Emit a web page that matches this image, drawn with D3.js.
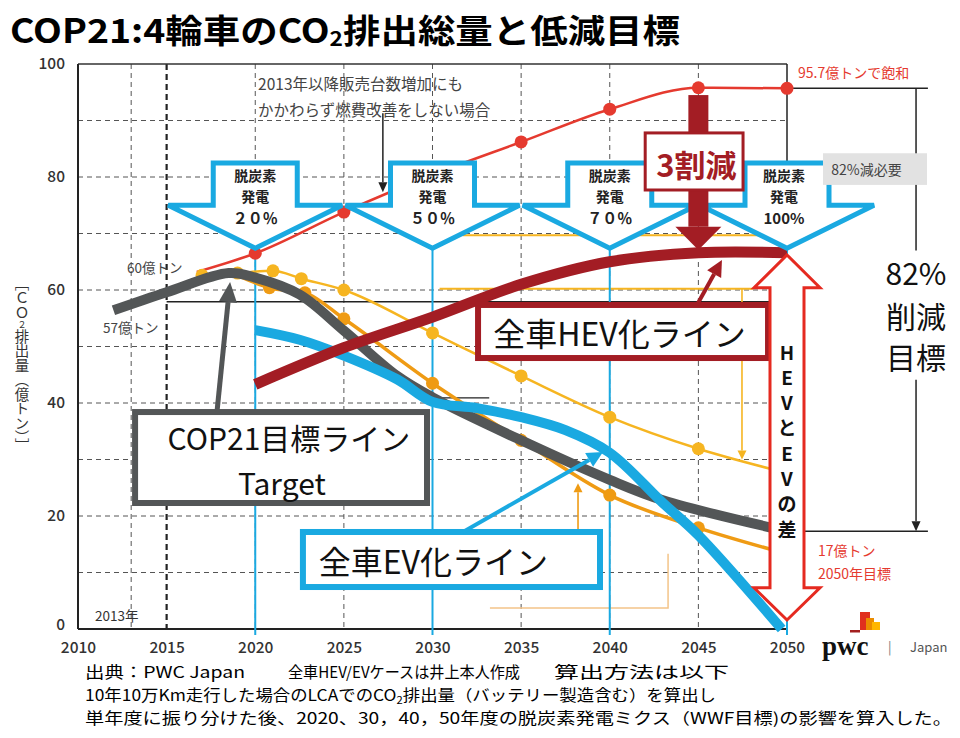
<!DOCTYPE html>
<html><head><meta charset="utf-8">
<script src="https://cdn.jsdelivr.net/npm/d3@7/dist/d3.min.js"></script>
<style>body{margin:0;background:#fff}svg{display:block}</style>
</head><body>
<svg id="c" width="960" height="738"></svg>
<script>
// ---------------- data ----------------
const noImproveYears  = [2016.7, 2020, 2025, 2030, 2035, 2040, 2045, 2050];
const noImproveValues = [63.2, 66.5, 73.8, 80.4, 86.2, 92.0, 95.8, 95.7];
const noImproveDotYears = [2020, 2025, 2030, 2035, 2040, 2045, 2050];

const mixAYears  = [2017, 2019, 2021, 2022.6, 2025, 2030, 2035, 2040, 2045, 2050];
const mixAValues = [62.6, 63.0, 63.4, 62.0, 60.0, 52.4, 44.8, 37.5, 31.9, 27.6];
const mixADotYears = [2017, 2019, 2021, 2022.6, 2025, 2030, 2035, 2040, 2045];

const mixBYears  = [2019, 2020.8, 2022.8, 2025, 2030, 2035, 2040, 2045, 2050];
const mixBValues = [62.6, 60.4, 59.5, 54.9, 43.5, 33.4, 23.7, 17.9, 13.3];
const mixBDotYears = [2020.8, 2022.8, 2025, 2030, 2035, 2040, 2045];

const cop21Years  = [2012, 2015, 2018.5, 2020, 2022.5, 2025, 2028, 2030, 2035, 2040, 2043, 2050];
const cop21Values = [56.4, 59.6, 63.0, 62.2, 59.2, 52.8, 44.8, 41.0, 33.4, 26.4, 22.8, 17.3];

const evYears  = [2020, 2022.5, 2025, 2028, 2030, 2032.5, 2035, 2037.5, 2040, 2043, 2045, 2049.7];
const evValues = [52.9, 51.2, 48.4, 44.2, 40.2, 39.1, 37.5, 35.2, 31.2, 22.3, 16.6, 0];

const hevYears  = [2020, 2025, 2030, 2035, 2040, 2045, 2050];
const hevValues = [43.3, 49.8, 55.2, 61.0, 65.0, 66.6, 66.6];

const xTicks = [2010, 2015, 2020, 2025, 2030, 2035, 2040, 2045, 2050];
const yTicks = [0, 20, 40, 60, 80, 100];
const gridValues = [10, 20, 30, 40, 50, 60, 70, 80, 90];
const gridYears = [2013, 2020, 2025, 2030, 2035, 2040, 2045];
const powerYears = [2020, 2030, 2040, 2050];
const powerLabels = ["２０％", "５０％", "７０％", "100%"];
const saturation = 95.7;
const target2050 = 17.3;
const level57 = 57.9;
const gapChars = ["H","E","V","と","E","V","の","差"];

// ---------------- setup ----------------
const svg = d3.select("#c");
const JP = "'Noto Sans CJK JP','Noto Sans',sans-serif";
const x = d3.scaleLinear().domain([2010, 2050]).range([78, 787]);
const y = d3.scaleLinear().domain([0, 100]).range([629, 64]);
const zip = (a, b) => a.map((v, i) => [v, b[i]]);
const C = {red:"#e53a2f", gold:"#f6b521", orange:"#ef9b14", gray:"#535657",
           blue:"#1aa9e1", hev:"#a31d24", gapRed:"#e52a20"};

function arrow(p, x1, y1, x2, y2, color, w, hl, hw) {
  const a = Math.atan2(y2 - y1, x2 - x1);
  const bx = x2 - hl * Math.cos(a), by = y2 - hl * Math.sin(a);
  p.append("line").attr("x1", x1).attr("y1", y1).attr("x2", bx).attr("y2", by)
    .attr("stroke", color).attr("stroke-width", w);
  const px = -Math.sin(a), py = Math.cos(a);
  p.append("polygon").attr("points",
    [[x2, y2], [bx + px * hw, by + py * hw], [bx - px * hw, by - py * hw]].map(d => d.join(",")).join(" "))
    .attr("fill", color);
}
function txt(p, s, px, py, o = {}) {
  return p.append("text").attr("x", px).attr("y", py).text(s)
    .attr("font-family", o.ff || JP).attr("font-size", o.fs || 14)
    .attr("font-weight", o.fw || 400).attr("fill", o.fill || "#222")
    .attr("text-anchor", o.anchor || "start").attr("dominant-baseline", "central");
}

// ---------------- grid ----------------
const grid = svg.append("g");
grid.selectAll("line.h").data(gridValues).join("line").attr("class", "h")
  .attr("x1", x(2010)).attr("x2", x(2050)).attr("y1", d => y(d)).attr("y2", d => y(d))
  .attr("stroke", "#555").attr("stroke-width", 1).attr("stroke-dasharray", "5,4");
grid.selectAll("line.v").data(gridYears).join("line").attr("class", "v")
  .attr("x1", d => x(d)).attr("x2", d => x(d)).attr("y1", y(100)).attr("y2", y(0))
  .attr("stroke", "#555").attr("stroke-width", 1).attr("stroke-dasharray", "5,4");
grid.append("line").attr("x1", x(2015)).attr("x2", x(2015)).attr("y1", y(100)).attr("y2", y(0))
  .attr("stroke", "#222").attr("stroke-width", 2.2).attr("stroke-dasharray", "6,4");

// frame
grid.append("line").attr("x1", x(2010)).attr("x2", x(2050)).attr("y1", y(100)).attr("y2", y(100)).attr("stroke", "#333").attr("stroke-width", 1.5);
grid.append("line").attr("x1", x(2010)).attr("x2", x(2010)).attr("y1", y(100)).attr("y2", y(0)).attr("stroke", "#222").attr("stroke-width", 2);
grid.append("line").attr("x1", x(2010)).attr("x2", x(2050)).attr("y1", y(0)).attr("y2", y(0)).attr("stroke", "#222").attr("stroke-width", 2);
grid.append("line").attr("x1", x(2050)).attr("x2", x(2050)).attr("y1", y(100)).attr("y2", y(0)).attr("stroke", "#222").attr("stroke-width", 1.5);
grid.append("line").attr("x1", x(2015)).attr("x2", x(2050)).attr("y1", y(level57)).attr("y2", y(level57)).attr("stroke", "#222").attr("stroke-width", 1.5);
grid.append("line").attr("x1", x(2030.4)).attr("x2", x(2033.2)).attr("y1", y(40.9)).attr("y2", y(40.9)).attr("stroke", "#222").attr("stroke-width", 1.3);
grid.append("line").attr("x1", x(2050)).attr("x2", x(2057.95)).attr("y1", y(saturation)).attr("y2", y(saturation)).attr("stroke", "#222").attr("stroke-width", 1.5);
grid.append("line").attr("x1", x(2057.28)).attr("x2", x(2057.28)).attr("y1", y(saturation)).attr("y2", y(67)).attr("stroke", "#222").attr("stroke-width", 1.5);
grid.append("line").attr("x1", x(2050.9)).attr("x2", x(2057.95)).attr("y1", y(target2050)).attr("y2", y(target2050)).attr("stroke", "#222").attr("stroke-width", 1.5);
arrow(grid, x(2057.28), y(44.1), x(2057.28), y(target2050), "#222", 1.5, 10, 4.5);

// axes
const xa = svg.append("g").attr("transform", `translate(0,${y(0)})`)
  .call(d3.axisBottom(x).tickValues(xTicks).tickFormat(d3.format("d")).tickSize(0).tickPadding(13));
xa.select(".domain").remove();
xa.selectAll("text").attr("font-family", JP).attr("font-size", 15.5).attr("font-weight", 500).attr("fill", "#333");
const ya = svg.append("g").attr("transform", `translate(${x(2010)},0)`)
  .call(d3.axisLeft(y).tickValues(yTicks).tickSize(0).tickPadding(13));
ya.select(".domain").remove();
ya.selectAll("text").attr("font-family", JP).attr("font-size", 15.5).attr("font-weight", 500).attr("fill", "#333")
  .attr("dy", d => d === 0 ? "0.05em" : "0.32em");

// orange annotation remnants
const ann = svg.append("g");
ann.append("line").attr("x1", x(2031.7)).attr("x2", x(2049)).attr("y1", y(69.7)).attr("y2", y(69.7)).attr("stroke", C.gold).attr("stroke-width", 2);
ann.append("line").attr("x1", x(2030.4)).attr("x2", x(2048.1)).attr("y1", y(60.2)).attr("y2", y(60.2)).attr("stroke", C.gold).attr("stroke-width", 2);
arrow(ann, x(2047.46), y(60.2), x(2047.46), y(30.0), C.gold, 1.6, 9, 4.5);
arrow(ann, x(2038.21), y(17.5), x(2038.21), y(25.8), C.orange, 1.6, 9, 4.5);
ann.append("polyline").attr("points", [[x(2033.24), y(3.7)], [x(2043.29), y(3.7)], [x(2043.29), y(13.3)]].map(d => d.join(",")).join(" "))
  .attr("fill", "none").attr("stroke", "#f3c489").attr("stroke-width", 1.5);

// blue vertical guides
svg.append("g").selectAll("line").data(powerYears).join("line")
  .attr("x1", d => x(d)).attr("x2", d => x(d)).attr("y1", y(67.4)).attr("y2", y(0) + 6)
  .attr("stroke", C.blue).attr("stroke-width", 2);

// ---------------- series ----------------
const lineGen = c => d3.line().x(d => x(d[0])).y(d => y(d[1])).curve(c);
const series = svg.append("g");
series.append("path").datum(zip(noImproveYears, noImproveValues)).attr("d", lineGen(d3.curveMonotoneX))
  .attr("fill", "none").attr("stroke", C.red).attr("stroke-width", 2.5);
series.selectAll("circle.r").data(noImproveDotYears).join("circle").attr("class", "r")
  .attr("cx", d => x(d)).attr("cy", d => y(noImproveValues[noImproveYears.indexOf(d)])).attr("r", 6.5).attr("fill", C.red);
series.append("path").datum(zip(mixAYears, mixAValues)).attr("d", lineGen(d3.curveMonotoneX))
  .attr("fill", "none").attr("stroke", C.gold).attr("stroke-width", 2.5);
series.selectAll("circle.a").data(mixADotYears).join("circle").attr("class", "a")
  .attr("cx", d => x(d)).attr("cy", d => y(mixAValues[mixAYears.indexOf(d)])).attr("r", 6.5).attr("fill", C.gold);
series.append("path").datum(zip(mixBYears, mixBValues)).attr("d", lineGen(d3.curveMonotoneX))
  .attr("fill", "none").attr("stroke", C.orange).attr("stroke-width", 3.5);
series.selectAll("circle.b").data(mixBDotYears).join("circle").attr("class", "b")
  .attr("cx", d => x(d)).attr("cy", d => y(mixBValues[mixBYears.indexOf(d)])).attr("r", 6.5).attr("fill", C.orange);
series.append("path").datum(zip(cop21Years, cop21Values)).attr("d", lineGen(d3.curveCatmullRom.alpha(0.5)))
  .attr("fill", "none").attr("stroke", C.gray).attr("stroke-width", 10);
series.append("path").datum(zip(evYears, evValues)).attr("d", lineGen(d3.curveCatmullRom.alpha(0.5)))
  .attr("fill", "none").attr("stroke", C.blue).attr("stroke-width", 10);
series.append("path").datum(zip(hevYears, hevValues)).attr("d", lineGen(d3.curveCatmullRom.alpha(0.5)))
  .attr("fill", "none").attr("stroke", C.hev).attr("stroke-width", 11);

// ---------------- decarbonised power arrows ----------------
const pa = svg.append("g");
powerYears.forEach((yr) => {
  const cx = x(yr), bw = 42, ww = 87;
  const yt = y(82.5), ys = y(75.0), yp = y(67.4);
  pa.append("polygon").attr("points",
    [[cx - bw, yt], [cx + bw, yt], [cx + bw, ys], [cx + ww, ys], [cx, yp], [cx - ww, ys], [cx - bw, ys]].map(d => d.join(",")).join(" "))
    .attr("fill", "#fff").attr("stroke", C.blue).attr("stroke-width", 5).attr("stroke-linejoin", "miter");
});
powerYears.forEach((yr, i) => {
  const cx = x(yr) - (i === 3 ? 3 : 0);
  txt(pa, "脱炭素", cx, y(80.4), {fs: 14, fw: 700, anchor: "middle"});
  txt(pa, "発電", cx, y(76.7), {fs: 14, fw: 700, anchor: "middle"});
  txt(pa, powerLabels[i], cx, y(72.8), {fs: 15, fw: 700, anchor: "middle"});
});

// 3割減 arrow + box
const cut = svg.append("g");
const cx45 = x(2045);
cut.append("rect").attr("x", cx45 - 10).attr("y", y(94.5)).attr("width", 20).attr("height", y(71.2) - y(94.5)).attr("fill", C.hev);
cut.append("polygon").attr("points", [[cx45 - 23, y(71.2)], [cx45 + 23, y(71.2)], [cx45, y(67.1)]].map(d => d.join(",")).join(" ")).attr("fill", C.hev);
cut.append("rect").attr("x", x(2042.0)).attr("y", y(87.8)).attr("width", x(2047.52) - x(2042.0)).attr("height", y(77.7) - y(87.8))
  .attr("fill", "#fff").attr("stroke", C.hev).attr("stroke-width", 3);
txt(cut, "3割減", cx45 - 2, y(82.6) + 1, {fs: 31, fw: 700, anchor: "middle", fill: C.hev});

// ---------------- label boxes ----------------
const lb = svg.append("g");
function box(x0, v0, x1, v1, color) {
  lb.append("rect").attr("x", x(x0)).attr("y", y(v0)).attr("width", x(x1) - x(x0)).attr("height", y(v1) - y(v0))
    .attr("fill", "#fff").attr("stroke", color).attr("stroke-width", 6);
}
box(2013.22, 38.4, 2029.69, 22.3, C.gray);
arrow(lb, x(2017.84), y(38.4), x(2018.58), y(61.4), C.gray, 5, 20, 9);
txt(lb, "COP21目標ライン", x(2021.9), y(34.0), {fs: 30, anchor: "middle", fill: "#111"});
txt(lb, "Target", x(2021.5), y(26.0), {fs: 30, anchor: "middle", fill: "#111"});

box(2032.57, 57.35, 2048.93, 47.96, C.hev);
arrow(lb, x(2044.92), y(57.35), x(2046.33), y(65.3), C.hev, 4, 16, 8);
txt(lb, "全車HEV化ライン", x(2040.55), y(52.6), {fs: 32, anchor: "middle", fill: "#111"});

box(2022.69, 17.17, 2039.45, 7.43, C.blue);
arrow(lb, x(2031.72), y(17.17), x(2039.62), y(31.33), C.blue, 4, 16, 8);
txt(lb, "全車EV化ライン", x(2030.05), y(12.3), {fs: 32, anchor: "middle", fill: "#111"});

// ---------------- HEV-EV gap arrow ----------------
const gap = svg.append("g");
const gx = x(2050), sh = 17, hh = 33;
gap.append("polygon").attr("points", [
  [gx, y(66.2)], [gx + hh, y(60.4)], [gx + sh, y(60.4)], [gx + sh, y(7.3)], [gx + hh, y(7.3)],
  [gx, y(1.6)], [gx - hh, y(7.3)], [gx - sh, y(7.3)], [gx - sh, y(60.4)], [gx - hh, y(60.4)]
].map(d => d.join(",")).join(" ")).attr("fill", "#fff").attr("stroke", C.gapRed).attr("stroke-width", 3);
gapChars.forEach((ch, i) => txt(gap, ch, gx, y(49.2) + i * 25.3, {fs: 19, fw: 700, anchor: "middle", fill: "#111"}));

// ---------------- annotation texts ----------------
const tx = svg.append("g");
txt(tx, "95.7億トンで飽和", x(2050.62), y(98.6), {fs: 14, fill: C.red});
tx.append("rect").attr("x", x(2052.03)).attr("y", y(84.2)).attr("width", x(2057.9) - x(2052.03)).attr("height", y(78.6) - y(84.2)).attr("fill", "#e2e2e2");
txt(tx, "82%減必要", x(2052.5), y(81.4), {fs: 14, fill: "#444"});
txt(tx, "82%", x(2057.28), y(63.2), {fs: 30, anchor: "middle", fill: "#111"});
txt(tx, "削減", x(2057.28), y(55.6), {fs: 30, anchor: "middle", fill: "#111"});
txt(tx, "目標", x(2057.28), y(48.3), {fs: 30, anchor: "middle", fill: "#111"});
txt(tx, "17億トン", x(2051.75), y(14.0), {fs: 14, fill: C.red});
txt(tx, "2050年目標", x(2051.75), y(9.9), {fs: 14, fill: C.red});
txt(tx, "60億トン", x(2012.76), y(64.1), {fs: 13.5, fill: "#444"});
txt(tx, "57億トン", x(2011.41), y(53.5), {fs: 13.5, fill: "#444"});
txt(tx, "2013年", x(2010.96), y(2.5), {fs: 13.5, fill: "#333"});
txt(tx, "2013年以降販売台数増加にも", x(2020.16), y(96.6), {fs: 15.5, fill: "#444"});
txt(tx, "かかわらず燃費改善をしない場合", x(2020.16), y(92.0), {fs: 15.5, fill: "#444"});
arrow(tx, x(2027.2), y(91.3), x(2027.2), y(77.3), "#222", 1.5, 10, 4.5);

// ---------------- title / axis title / footer / logo ----------------
const t = svg.append("text").attr("x", 10).attr("y", 43).attr("font-family", JP).attr("font-size", 33).attr("font-weight", 700)
  .attr("fill", "#000").attr("textLength", 670).attr("lengthAdjust", "spacingAndGlyphs");
t.append("tspan").text("COP21:4輪車のCO");
t.append("tspan").attr("font-size", 20).attr("dy", 3).text("2");
t.append("tspan").attr("dy", -3).text("排出総量と低減目標");

const yt = svg.append("text").attr("x", 22).attr("y", 276).attr("font-family", JP).attr("font-size", 14.5)
  .attr("fill", "#333").style("writing-mode", "vertical-rl");
yt.append("tspan").text("［ＣＯ");
yt.append("tspan").attr("font-size", 9).text("２");
yt.append("tspan").text("排出量（億トン）］");

function foot(s, x0, x1, by) {
  return svg.append("text").attr("x", x0).attr("y", by).attr("font-family", JP).attr("font-size", 15.5).attr("fill", "#000")
    .attr("textLength", x1 - x0).attr("lengthAdjust", "spacingAndGlyphs").text(s);
}
foot("出典：PWC Japan", 85, 245, 678);
foot("全車HEV/EVケースは井上本人作成", 288, 520, 678);
foot("算出方法は以下", 554, 729, 678);
const f2 = svg.append("text").attr("x", 85).attr("y", 701).attr("font-family", JP).attr("font-size", 15.5).attr("fill", "#000")
  .attr("textLength", 631).attr("lengthAdjust", "spacingAndGlyphs");
f2.append("tspan").text("10年10万Km走行した場合のLCAでのCO");
f2.append("tspan").attr("font-size", 10).attr("dy", 3).text("2");
f2.append("tspan").attr("dy", -3).text("排出量（バッテリー製造含む）を算出し");
foot("単年度に振り分けた後、2020、30，40，50年度の脱炭素発電ミクス（WWF目標)の影響を算入した。", 85, 952, 724);

// pwc logo
const logo = svg.append("g");
logo.append("rect").attr("x", 850).attr("y", 630).attr("width", 10).attr("height", 2.5).attr("fill", "#a32020");
logo.append("rect").attr("x", 860).attr("y", 612).attr("width", 10).attr("height", 18).attr("fill", "#e0301e");
logo.append("rect").attr("x", 866).attr("y", 618).attr("width", 8).attr("height", 12).attr("fill", "#eb8c00");
logo.append("rect").attr("x", 872).attr("y", 622).attr("width", 8).attr("height", 8).attr("fill", "#ffb600");
logo.append("text").attr("x", 822).attr("y", 655).attr("font-family", "'Liberation Serif',serif").attr("font-weight", 700)
  .attr("font-size", 27).attr("fill", "#111").text("pwc");
logo.append("text").attr("x", 888).attr("y", 652).attr("font-family", JP).attr("font-size", 13).attr("fill", "#777").text("|");
logo.append("text").attr("x", 910).attr("y", 652).attr("font-family", JP).attr("font-size", 13).attr("fill", "#555").text("Japan");
</script>
</body></html>
